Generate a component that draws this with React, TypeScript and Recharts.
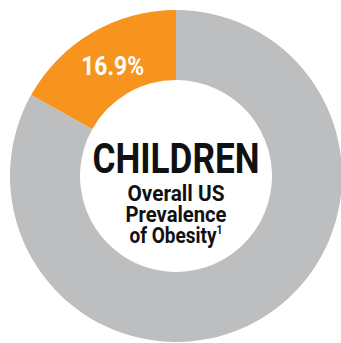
import React from 'react';
import { PieChart, Pie, Cell, Label } from 'recharts';

const categories = ['Obese', 'Not obese'];
const values = [16.9, 83.1];
const colors = ['#F7941E', '#BCBEC0'];
const centerTitle = 'CHILDREN';
const centerLines = ['Overall US', 'Prevalence', 'of Obesity'];

const data = categories.map((name, i) => ({ name, value: values[i] }));

const FONT = 'Roboto, "Liberation Sans", sans-serif';
const CX = 176;
const CY = 176;

const renderSliceLabel = (props: any) => {
  const { cx, cy, midAngle, innerRadius, outerRadius, index, value } = props;
  if (index !== 0) return null;
  const RAD = Math.PI / 180;
  const r = (innerRadius + outerRadius) / 2;
  const x = cx + r * Math.cos(-midAngle * RAD) + 3;
  const y = cy + r * Math.sin(-midAngle * RAD) + 12;
  return (
    <text x={x} y={y} fill="#ffffff" textAnchor="middle"
      fontFamily={FONT} fontWeight="bold" fontSize={25}
      textLength={63} lengthAdjust="spacingAndGlyphs">
      {`${value}%`}
    </text>
  );
};

const CenterContent = () => {
  const cx = CX;
  const cy = CY;
  return (
    <g fontFamily={FONT} fontWeight="bold" textAnchor="middle">
      <text x={cx} y={cy - 3} fontSize={42} fill="#111111" textLength={167} lengthAdjust="spacingAndGlyphs">{centerTitle}</text>
      <text x={cx} y={cy + 25} fontSize={22} fill="#111111" textLength={97} lengthAdjust="spacingAndGlyphs">{centerLines[0]}</text>
      <text x={cx} y={cy + 46} fontSize={22} fill="#111111" textLength={101} lengthAdjust="spacingAndGlyphs">{centerLines[1]}</text>
      <text x={cx} y={cy + 67} fontSize={22} fill="#111111" textLength={93} lengthAdjust="spacingAndGlyphs">
        {centerLines[2]}
        <tspan fontSize={12} dy={-9}>1</tspan>
      </text>
    </g>
  );
};

export default function App() {
  return (
    <div style={{ position: 'absolute', left: 0, top: 0, width: 341, height: 343, background: '#ffffff' }}>
      <PieChart width={341} height={343} margin={{ top: 0, right: 0, bottom: 0, left: 0 }}>
        <Pie
          data={data}
          dataKey="value"
          nameKey="name"
          cx={CX}
          cy={CY}
          innerRadius={96}
          outerRadius={166}
          startAngle={90}
          endAngle={450}
          stroke="none"
          isAnimationActive={false}
          label={renderSliceLabel}
          labelLine={false}
        >
          {data.map((d, i) => (
            <Cell key={d.name} fill={colors[i]} />
          ))}
          <Label position="center" content={<CenterContent />} />
        </Pie>
      </PieChart>
    </div>
  );
}
